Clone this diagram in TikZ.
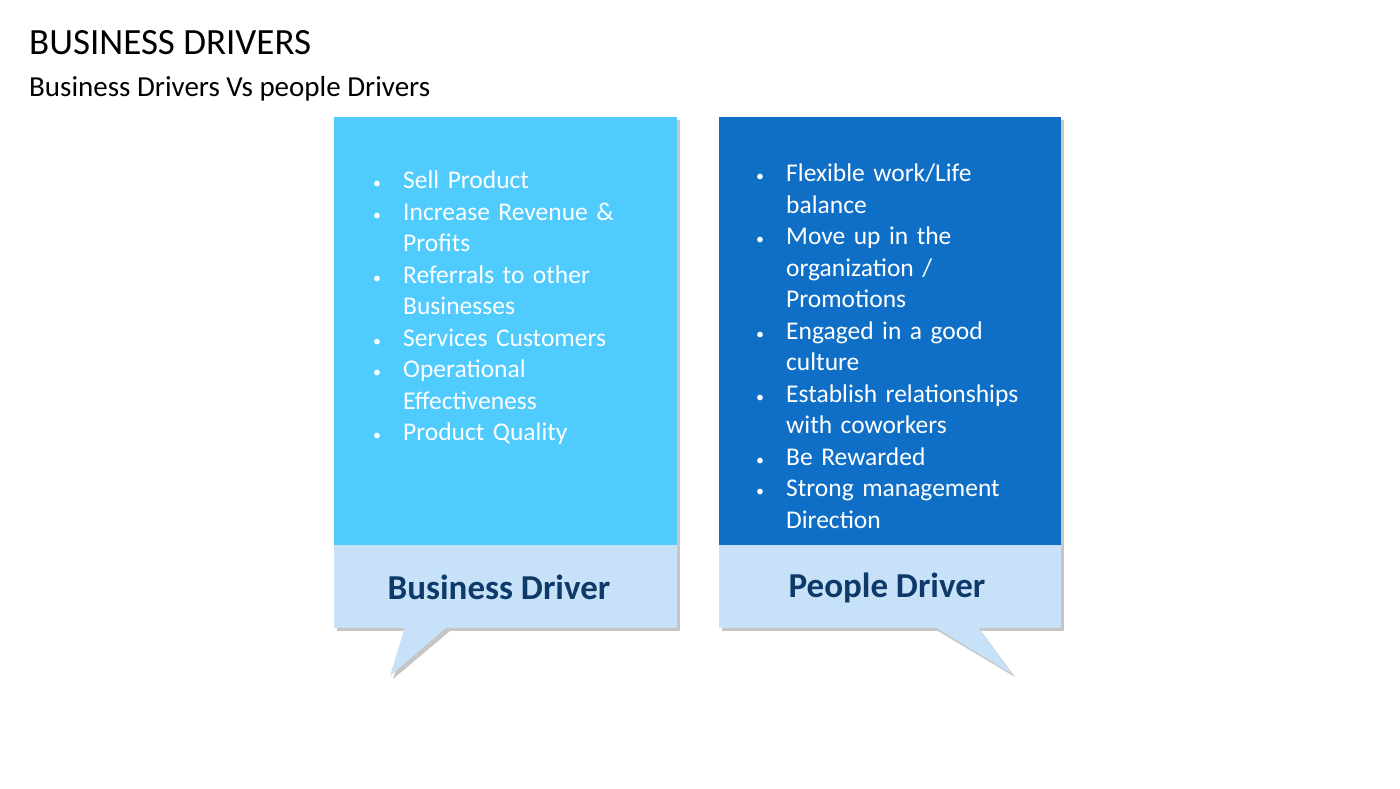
\documentclass[tikz,border=0pt]{standalone}
\usepackage{fontspec}
\setmainfont{Carlito}
\usepackage{enumitem}
\definecolor{skyblue}{HTML}{4FCBFD}
\definecolor{deepblue}{HTML}{0F6FC6}
\definecolor{paleblue}{HTML}{C7E2F8}
\definecolor{navytext}{HTML}{0E3A6A}
\tikzset{
  boxshadow/.style={fill=gray!45},
  bullettext/.style={anchor=north west,text=white,text width=280pt,align=left,
    font=\fontsize{25.5}{31.5}\selectfont,inner sep=0pt},
  caption/.style={font=\fontsize{35}{40}\selectfont\bfseries,text=navytext}
}
\newcommand{\drvlist}[2]{\parbox{#1}{\raggedright\begin{itemize}[leftmargin=33pt,labelsep=22pt,itemsep=0pt,parsep=0pt,topsep=0pt,
  label={\fontsize{16}{16}\selectfont\textbullet}]#2\end{itemize}}}
\begin{document}
\begin{tikzpicture}[x=1pt,y=-1pt]
\useasboundingbox (0,0) rectangle (1400,788);
\fill[white] (0,0) rectangle (1400,788);
% Title
\node[anchor=base west,font=\fontsize{37}{42}\selectfont,inner sep=0pt] (title) at (29,54) {BUSINESS DRIVERS};
\node[anchor=base west,font=\fontsize{29}{32}\selectfont,inner sep=0pt] (subtitle) at (29,96) {Business Drivers Vs people Drivers};

% Shadows
\fill[boxshadow] (337,120) rectangle (680,631);
\fill[boxshadow] (408,631) -- (450,631) -- (393,679) -- cycle;
\fill[boxshadow] (722,120) rectangle (1064,631);
\fill[boxshadow] (938,631) -- (981,631) -- (1015,677) -- cycle;

% Left callout
\fill[skyblue] (334,117) rectangle (677,545);
\fill[paleblue] (334,545) rectangle (677,628);
\fill[paleblue] (405,627) -- (447,627) -- (390,676) -- cycle;
% Right callout
\fill[deepblue] (719,117) rectangle (1061,545);
\fill[paleblue] (719,545) rectangle (1061,628);
\fill[paleblue] (935,627) -- (978,627) -- (1012,674) -- cycle;

% Lists
\node[bullettext] (bizlist) at (370,169) {\drvlist{270pt}{
  \item Sell Product
  \item Increase Revenue \& Profits
  \item Referrals to other Businesses
  \item Services Customers
  \item Operational Effectiveness
  \item Product Quality}};
\node[bullettext] (pplist) at (753,162) {\drvlist{280pt}{
  \item Flexible work/Life balance
  \item Move up in the organization / Promotions
  \item Engaged in a good culture
  \item Establish relationships with coworkers
  \item Be Rewarded
  \item Strong management Direction}};

% Captions
\node[caption] (bizcap) at (499,587) {Business Driver};
\node[caption] (ppcap) at (887,588) {People Driver};
\end{tikzpicture}
\end{document}
